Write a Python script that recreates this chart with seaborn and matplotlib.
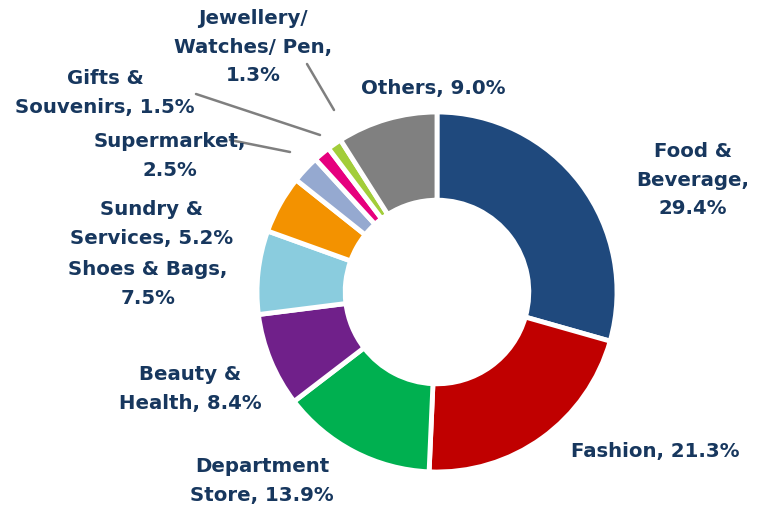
import numpy as np
import matplotlib
matplotlib.use("Agg")
import matplotlib.pyplot as plt
import seaborn as sns

# Data
categories = ['Food &\nBeverage,', 'Fashion,', 'Department\nStore,', 'Beauty &\nHealth,',
              'Shoes & Bags,\n', 'Sundry &\nServices,', 'Supermarket,\n', 'Gifts &\nSouvenirs,',
              'Jewellery/\nWatches/ Pen,\n', 'Others,']
shares = [29.4, 21.3, 13.9, 8.4, 7.5, 5.2, 2.5, 1.5, 1.3, 9.0]
colors = ['#1F497D', '#C00000', '#00B050', '#70208A', '#8ACCDE',
          '#F39200', '#95A9D0', '#E6007E', '#A2CD3A', '#808080']

# label layout in pixels (x, y from top)
label_pos = [(693, 180), (655, 452), (262, 481), (190, 389), (148, 284),
             (152, 224), (170, 156), (105, 93), (253, 47), (433, 88)]
# leader lines: (start, end) in pixels
leaders = [((196, 94), (320, 135)), ((307, 64), (334, 110)), ((230, 140), (290, 152))]

sns.set_theme(style='white')
plt.rcParams['font.family'] = ['DejaVu Sans']

W, H = 760, 509
fig = plt.figure(figsize=(W / 100, H / 100), dpi=100)
ax = fig.add_axes([0, 0, 1, 1])
cx, cy, R = 437, H - 292, 180

wedges, _ = ax.pie(shares, colors=colors, startangle=90, counterclock=False,
                   center=(cx, cy), radius=R,
                   wedgeprops=dict(width=R * 0.49, edgecolor='white', linewidth=3.5))

txt_color = '#17375E'
for i, (cat, val) in enumerate(zip(categories, shares)):
    x, y = label_pos[i]
    if cat.endswith('\n'):
        text = cat + f'{val:.1f}%'
    elif i == 0:
        text = cat + f'\n{val:.1f}%'
    else:
        text = cat + f' {val:.1f}%'
    ax.text(x, H - y, text, ha='center', va='center', fontsize=14.2,
            fontweight='bold', color=txt_color, linespacing=1.62)

for (sx, sy), (ex, ey) in leaders:
    ax.plot([sx, ex], [H - sy, H - ey], color='#7F7F7F', lw=1.8, zorder=0)

ax.set_xlim(0, W)
ax.set_ylim(0, H)
ax.set_aspect('equal')
ax.axis('off')
fig.savefig('out.png', dpi=100)
